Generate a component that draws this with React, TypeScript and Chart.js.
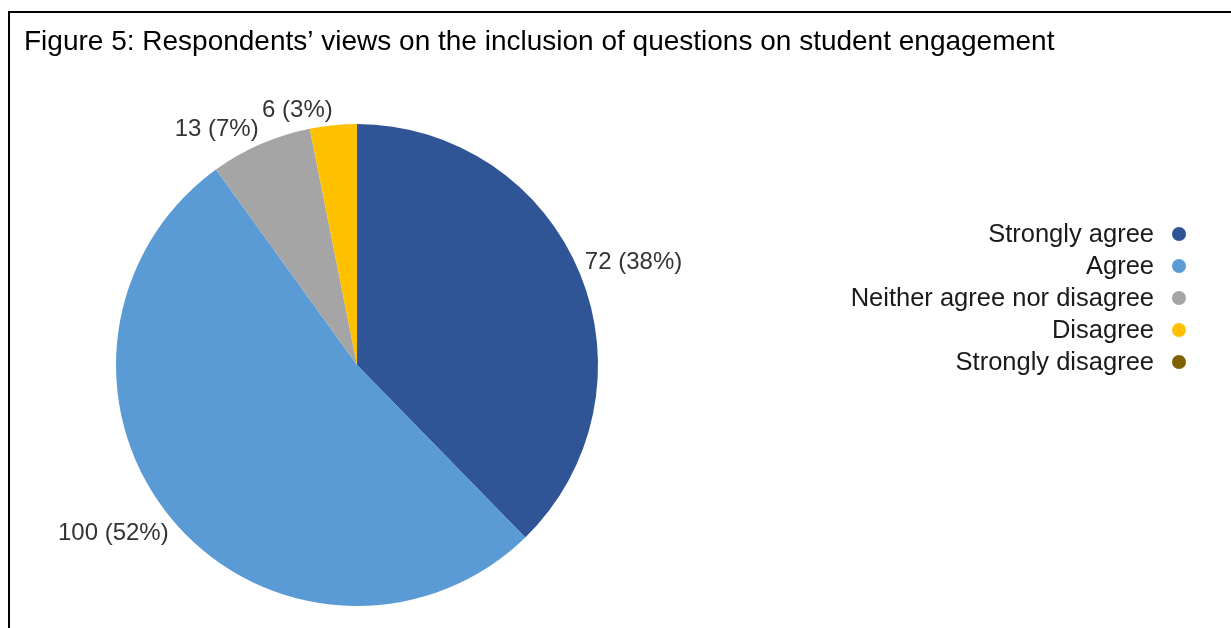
import React, { useEffect, useRef } from "react";
import { Chart, registerables } from "chart.js";

Chart.register(...registerables);

const categories = [
  "Strongly agree",
  "Agree",
  "Neither agree nor disagree",
  "Disagree",
  "Strongly disagree",
];
const counts = [72, 100, 13, 6, 0];
const percentLabels = ["38%", "52%", "7%", "3%", "0%"];
const colors = ["#2F5597", "#5B9BD5", "#A5A5A5", "#FFC000", "#7F6000"];
const titleText =
  "Figure 5: Respondents\u2019 views on the inclusion of questions on student engagement";

const FONT = '"Liberation Sans", Arial, sans-serif';

const decorPlugin = {
  id: "decor",
  beforeDraw(chart: any) {
    const ctx = chart.ctx;
    ctx.save();
    ctx.fillStyle = "#ffffff";
    ctx.fillRect(0, 0, chart.width, chart.height);
    ctx.fillStyle = "#000000";
    ctx.fillRect(8, 11, chart.width - 8, 2);
    ctx.fillRect(8, 11, 2, chart.height - 11);
    ctx.font = `28px ${FONT}`;
    ctx.textAlign = "left";
    ctx.textBaseline = "alphabetic";
    ctx.fillStyle = "#000000";
    ctx.fillText(titleText, 24, 50);
    ctx.restore();
  },
  afterDatasetsDraw(chart: any) {
    const ctx = chart.ctx;
    const meta = chart.getDatasetMeta(0);
    ctx.save();
    ctx.font = `24px ${FONT}`;
    ctx.fillStyle = "#333333";
    ctx.textBaseline = "middle";
    ctx.textAlign = "left";
    const h = 20;
    meta.data.forEach((arc: any, i: number) => {
      if (!counts[i]) return;
      const p = arc.getProps(["x", "y", "startAngle", "endAngle", "outerRadius"], true);
      const mid = (p.startAngle + p.endAngle) / 2;
      const dx = Math.cos(mid);
      const dy = Math.sin(mid);
      const r = p.outerRadius + 5;
      const px = p.x + dx * r;
      const py = p.y + dy * r;
      const text = `${counts[i]} (${percentLabels[i]})`;
      const w = ctx.measureText(text).width;
      const left = dx >= 0 ? px : px - w;
      const top = dy < 0 ? py - h : py;
      ctx.fillText(text, left, top + h / 2);
    });
    // legend
    ctx.font = `25.5px ${FONT}`;
    ctx.textAlign = "right";
    const rowY0 = 234;
    const rowStep = 32;
    categories.forEach((c, i) => {
      const y = rowY0 + i * rowStep;
      ctx.fillStyle = "#1a1a1a";
      ctx.fillText(c, 1154, y + 1);
      ctx.beginPath();
      ctx.arc(1179, y, 7, 0, Math.PI * 2);
      ctx.fillStyle = colors[i];
      ctx.fill();
    });
    ctx.restore();
  },
};

export default function App() {
  const ref = useRef<HTMLCanvasElement | null>(null);
  useEffect(() => {
    document.body.style.margin = "0";
    const canvas = ref.current!;
    const chart = new Chart(canvas, {
      type: "pie",
      data: {
        labels: categories,
        datasets: [
          {
            data: counts,
            backgroundColor: colors,
            borderWidth: 0,
          },
        ],
      },
      options: {
        animation: false,
        responsive: false,
        devicePixelRatio: 1,
        layout: { padding: { left: 116, right: 633, top: 124, bottom: 22 } },
        plugins: {
          legend: { display: false },
          tooltip: { enabled: false },
          title: { display: false },
        },
      },
      plugins: [decorPlugin],
    });
    return () => chart.destroy();
  }, []);
  return (
    <div style={{ width: 1231, height: 628, overflow: "hidden" }}>
      <canvas ref={ref} width={1231} height={628} style={{ display: "block" }} />
    </div>
  );
}
